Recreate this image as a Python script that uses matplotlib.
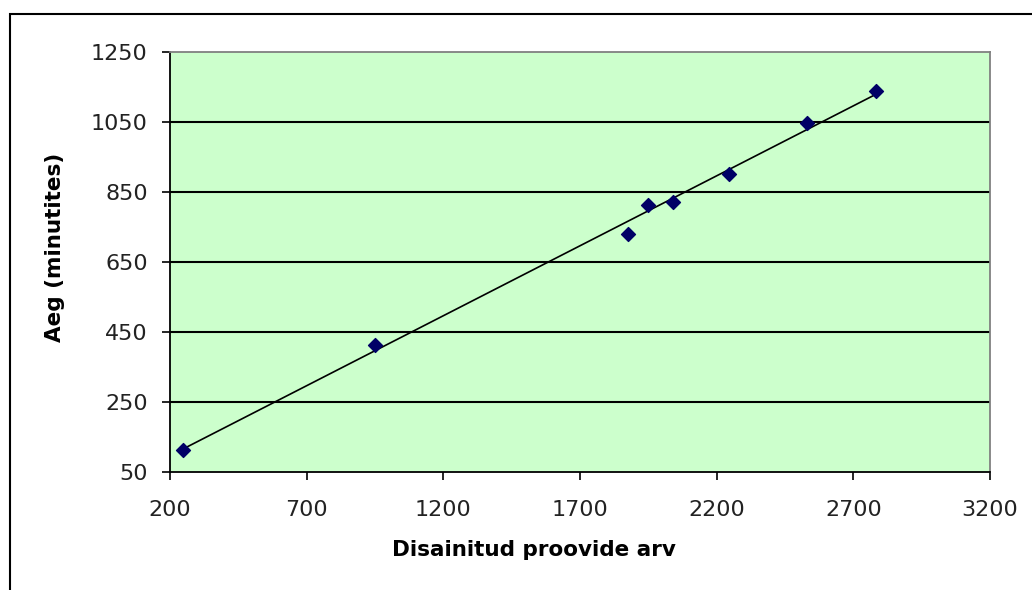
import numpy as np
import matplotlib.pyplot as plt
from matplotlib.patches import Rectangle

# values
proovid = [246, 950, 1877, 1950, 2042, 2246, 2532, 2783]
aeg = [114, 414, 731, 814, 822, 900, 1048, 1138]

x_ticks = [200, 700, 1200, 1700, 2200, 2700, 3200]
y_ticks = [50, 250, 450, 650, 850, 1050, 1250]

fig = plt.figure(figsize=(10.32, 5.9), dpi=100)
ax = fig.add_axes([170 / 1032, 1 - 472 / 590, 820 / 1032, 420 / 590])

# outer chart border (right and bottom fall outside the picture)
fig.patches.append(Rectangle((9.5 / 1032, -0.1), 1.2, 1 - 14 / 590 + 0.1,
                             transform=fig.transFigure, fill=False,
                             edgecolor='black', linewidth=1.5))

ax.set_facecolor('#ccffcc')
for y in y_ticks[1:-1]:
    ax.axhline(y, color='black', linewidth=1.5, zorder=1)

# linear trendline
k, b = np.polyfit(proovid, aeg, 1)
xs = np.array([min(proovid), max(proovid)])
ax.plot(xs, k * xs + b, color='black', linewidth=1.2, zorder=2)

ax.scatter(proovid, aeg, marker='D', s=50, color='#000066', zorder=3)

ax.set_xlim(200, 3200)
ax.set_ylim(50, 1250)
ax.set_xticks(x_ticks)
ax.set_yticks(y_ticks)
ax.tick_params(direction='out', length=6, width=1.2, labelsize=16,
               colors='black', labelcolor='#222222')
ax.tick_params(axis='x', pad=14)
ax.tick_params(axis='y', pad=10)

for side in ['left', 'bottom']:
    ax.spines[side].set_color('black')
    ax.spines[side].set_linewidth(1.3)
for side in ['top', 'right']:
    ax.spines[side].set_color('#808080')
    ax.spines[side].set_linewidth(1.3)

fig.text(534 / 1032, 1 - 550 / 590, 'Disainitud proovide arv', ha='center',
         va='center', fontsize=15.5, fontweight='bold')
fig.text(55 / 1032, 1 - 247 / 590, 'Aeg (minutites)', ha='center',
         va='center', rotation=90, fontsize=15.5, fontweight='bold')

plt.savefig('out.png', dpi=100)
